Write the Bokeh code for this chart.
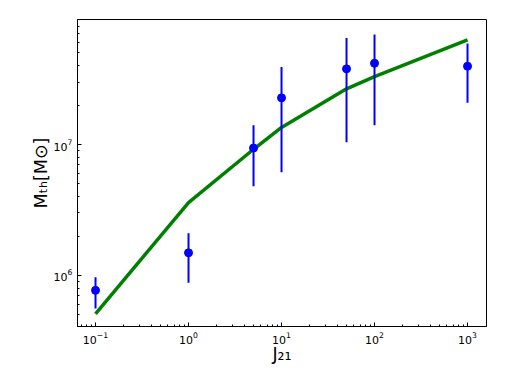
import numpy as np
from bokeh.plotting import figure
from bokeh.models import ColumnDataSource, Range1d
from bokeh.embed import file_html
from bokeh.resources import INLINE

# data
J = [0.1, 1, 5, 10, 50, 100, 1000]
M_obs = [7.7e5, 1.49e6, 9.4e6, 2.27e7, 3.78e7, 4.17e7, 3.96e7]
M_hi = [9.7e5, 2.1e6, 1.4e7, 3.9e7, 6.5e7, 6.9e7, 5.9e7]
M_lo = [5.6e5, 8.8e5, 4.8e6, 6.15e6, 1.04e7, 1.4e7, 2.08e7]
J_model = [0.1, 1, 5, 10, 50, 100, 1000]
M_model = [5.1e5, 3.6e6, 9.2e6, 1.35e7, 2.66e7, 3.3e7, 6.3e7]
x_label = "J\u2082\u2081"
y_label = "M\u209c\u2095[M\u2299]"

W, H = 512, 384
p = figure(width=W, height=H, x_axis_type="log", y_axis_type="log",
           x_range=Range1d(0.064, 1600), y_range=Range1d(4.08e5, 9.0e7),
           output_backend="svg", toolbar_location=None,
           min_border_left=77, min_border_right=26, min_border_top=19, min_border_bottom=58)
p.background_fill_color = "white"
p.border_fill_color = "white"
p.grid.visible = False
p.outline_line_color = "black"
p.outline_line_width = 1
p.outline_line_alpha = 1

for ax in (p.xaxis, p.yaxis):
    ax.axis_line_color = "black"
    ax.major_tick_in = 4
    ax.major_tick_out = 0
    ax.minor_tick_in = 2
    ax.minor_tick_out = 0
    ax.major_tick_line_color = "black"
    ax.minor_tick_line_color = "black"
    ax.major_label_text_font = "DejaVu Sans"
    ax.major_label_text_font_size = "11px"
    ax.major_label_text_color = "black"
    ax.major_label_standoff = 5
    ax.axis_label_text_font = "DejaVu Sans"
    ax.axis_label_text_font_size = "17.5px"
    ax.axis_label_text_font_style = "normal"
    ax.axis_label_text_color = "black"

p.xaxis.axis_label = x_label
p.yaxis.axis_label = y_label
p.xaxis.axis_label_standoff = -3
p.yaxis.axis_label_standoff = 0

p.line(J_model, M_model, line_color="green", line_width=3.5)
src = ColumnDataSource(dict(x=J, y=M_obs, lo=M_lo, hi=M_hi))
p.segment(x0="x", y0="lo", x1="x", y1="hi", source=src, line_color="blue", line_width=2)
p.scatter(x="x", y="y", source=src, size=8, fill_color="blue", line_color="blue")

open("out.html", "w").write(file_html(p, INLINE))
